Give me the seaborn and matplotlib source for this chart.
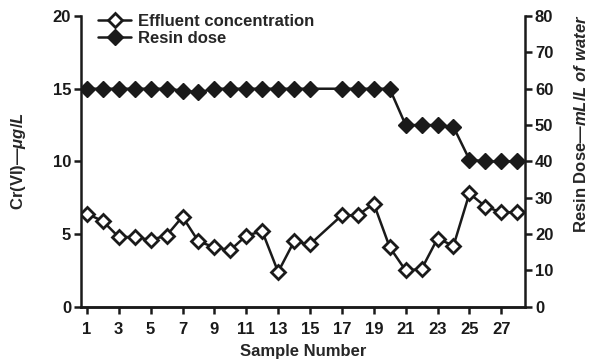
import numpy as np
import pandas as pd
import seaborn as sns
import matplotlib.pyplot as plt
from matplotlib.lines import Line2D

# data
samples = [1, 2, 3, 4, 5, 6, 7, 8, 9, 10, 11, 12, 13, 14, 15,
           17, 18, 19, 20, 21, 22, 23, 24, 25, 26, 27, 28]
effluent = [6.4, 5.9, 4.8, 4.8, 4.6, 4.9, 6.2, 4.5, 4.1, 3.9, 4.9, 5.2, 2.4, 4.5, 4.3,
            6.3, 6.3, 7.1, 4.1, 2.5, 2.6, 4.7, 4.2, 7.8, 6.9, 6.5, 6.5]
resin_dose = [60, 60, 60, 60, 60, 60, 59.5, 59, 60, 60, 60, 60, 60, 60, 60,
              60, 60, 60, 60, 50, 50, 50, 49.5, 40.5, 40, 40, 40]
xticks = list(range(1, 28, 2))

df = pd.DataFrame({"sample": samples, "effluent": effluent, "dose": resin_dose})

sns.set_style("ticks")
plt.rcParams['font.family'] = ['Liberation Sans', 'DejaVu Sans']
plt.rcParams['font.weight'] = 'bold'
plt.rcParams['axes.labelweight'] = 'bold'
plt.rcParams['mathtext.fontset'] = 'custom'
plt.rcParams['mathtext.it'] = 'Liberation Sans:italic:bold'
plt.rcParams['mathtext.rm'] = 'Liberation Sans:bold'

ink = '#1a1a1a'
fs = 12
fig = plt.figure(figsize=(6.03, 3.64), dpi=100)
ax = fig.add_axes([0.134, 0.157, 0.737, 0.799])
ax2 = ax.twinx()

sns.lineplot(data=df, x="sample", y="effluent", ax=ax, color=ink, lw=1.8,
             marker='D', markersize=7.5, markerfacecolor='white',
             markeredgecolor=ink, markeredgewidth=2)
sns.lineplot(data=df, x="sample", y="dose", ax=ax2, color=ink, lw=1.8,
             marker='D', markersize=8, markerfacecolor=ink,
             markeredgecolor=ink, markeredgewidth=1)

ax.set_xlim(0.62, 28.5)
ax.set_ylim(0, 20)
ax2.set_ylim(0, 80)
ax.set_xticks(xticks)
ax.set_yticks([0, 5, 10, 15, 20])
ax2.set_yticks(range(0, 81, 10))

for a in (ax, ax2):
    for s in a.spines.values():
        s.set_linewidth(1.8)
        s.set_color(ink)
    a.spines['top'].set_visible(False)
    a.tick_params(width=1.8, length=5, labelsize=fs, colors=ink, pad=2)
    for t in a.get_xticklabels() + a.get_yticklabels():
        t.set_fontweight('bold')
ax.tick_params(axis='x', pad=6)
ax2.spines['left'].set_visible(False)
ax.spines['right'].set_visible(False)
ax2.spines['right'].set_visible(True)

ax.set_xlabel("Sample Number", fontsize=fs, fontweight='bold', labelpad=5)
ax.set_ylabel(r"Cr(VI)—$\mathit{μg/L}$", fontsize=fs, fontweight='bold')
ax.yaxis.set_label_coords(-0.119, 0.5)
ax2.set_ylabel(r"Resin Dose—$\mathit{mL/L\ of\ water}$", fontsize=fs,
               fontweight='bold', rotation=90)
ax2.yaxis.set_label_coords(1.108, 0.63)

handles = [
    Line2D([], [], color=ink, lw=1.8, marker='D', markersize=7.5,
           markerfacecolor='white', markeredgecolor=ink, markeredgewidth=2),
    Line2D([], [], color=ink, lw=1.8, marker='D', markersize=8,
           markerfacecolor=ink, markeredgecolor=ink),
]
ax2.legend(handles, ["Effluent concentration", "Resin dose"], loc='upper left',
           bbox_to_anchor=(0.02, 1.035), frameon=False,
           prop={'weight': 'bold', 'size': fs},
           handlelength=2.0, handletextpad=0.4, labelspacing=0.1, borderpad=0)

fig.savefig("out.png", dpi=100)
